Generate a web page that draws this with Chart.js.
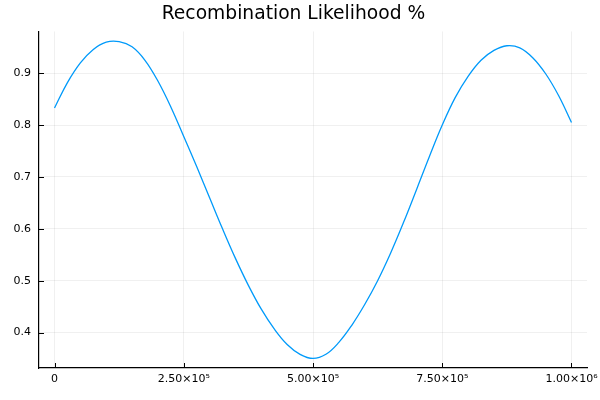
<!DOCTYPE html>
<html>
<head>
<meta charset="utf-8">
<script src="https://cdn.jsdelivr.net/npm/chart.js@4"></script>
<style>
  body { margin: 0; background: #fff; }
  #wrap { width: 600px; height: 400px; }
</style>
</head>
<body>
<div id="wrap"><canvas id="recomb-chart"></canvas></div>
<script>
// positions along the sequence
const positions = [
    0, 25000, 50000, 75000, 100000, 125000, 150000, 175000, 200000, 225000,
    250000, 275000, 300000, 325000, 350000, 375000, 400000, 425000, 450000, 475000,
    500000, 525000, 550000, 575000, 600000, 625000, 650000, 675000, 700000, 725000,
    750000, 775000, 800000, 825000, 850000, 875000, 900000, 925000, 950000, 975000,
    1000000
];
// likelihood values
const likelihood = [
    0.833, 0.882, 0.920, 0.946, 0.960, 0.961, 0.951, 0.925, 0.885, 0.835,
    0.778, 0.720, 0.660, 0.600, 0.543, 0.491, 0.445, 0.407, 0.377, 0.358,
    0.350, 0.358, 0.381, 0.414, 0.454, 0.500, 0.553, 0.612, 0.675, 0.739,
    0.800, 0.853, 0.894, 0.925, 0.944, 0.953, 0.949, 0.930, 0.899, 0.857,
    0.805
];

const xTicks = [0, 250000, 500000, 750000, 1000000];
const xTickLabels = ['0', '2.50×10⁵', '5.00×10⁵', '7.50×10⁵', '1.00×10⁶'];
const yTicks = [0.4, 0.5, 0.6, 0.7, 0.8, 0.9];
const yTickLabels = ['0.4', '0.5', '0.6', '0.7', '0.8', '0.9'];

const tickFont = { family: 'DejaVu Sans', size: 11 };

// small tick marks pointing into the plot, like the original
const innerTicks = {
    id: 'innerTicks',
    afterDraw(chart) {
        const { ctx, chartArea, scales } = chart;
        ctx.save();
        ctx.strokeStyle = '#000';
        ctx.lineWidth = 1;
        ctx.beginPath();
        xTicks.forEach(v => {
            const px = Math.round(scales.x.getPixelForValue(v)) + 0.5;
            ctx.moveTo(px, chartArea.bottom);
            ctx.lineTo(px, chartArea.bottom - 5);
        });
        yTicks.forEach(v => {
            const py = Math.round(scales.y.getPixelForValue(v)) + 0.5;
            ctx.moveTo(chartArea.left, py);
            ctx.lineTo(chartArea.left + 5, py);
        });
        ctx.stroke();
        ctx.restore();
    }
};

const ctx = document.getElementById('recomb-chart');

const config = {
    type: 'line',
    data: {
        datasets: [{
            label: 'y1',
            data: positions.map((x, i) => ({ x: x, y: likelihood[i] })),
            borderColor: 'rgb(0, 154, 250)',
            borderWidth: 1.3,
            pointRadius: 0,
            tension: 0.4,
            fill: false
        }]
    },
    options: {
        responsive: true,
        maintainAspectRatio: false,
        animation: false,
        layout: {
            padding: { left: 0, right: 13, top: 0, bottom: 0 }
        },
        plugins: {
            legend: { display: false },
            tooltip: { enabled: false },
            title: {
                display: true,
                text: 'Recombination Likelihood %',
                color: '#000',
                font: { family: 'DejaVu Sans', size: 18.7, weight: 'normal' },
                padding: { top: 3, bottom: 6 }
            }
        },
        scales: {
            x: {
                type: 'linear',
                min: -30000,
                max: 1030000,
                afterBuildTicks: scale => {
                    scale.ticks = xTicks.map(v => ({ value: v }));
                },
                afterFit: scale => {
                    scale.height = 32;
                    // let the last label run to the edge, as in the original
                    scale.paddingLeft = 0;
                    scale.paddingRight = 0;
                },
                ticks: {
                    color: '#000',
                    font: tickFont,
                    padding: 5,
                    maxRotation: 0,
                    autoSkip: false,
                    callback: (value, index) => xTickLabels[index]
                },
                grid: {
                    color: 'rgba(0, 0, 0, 0.06)',
                    lineWidth: 1,
                    drawTicks: false
                },
                border: { color: '#000', width: 1.2 }
            },
            y: {
                type: 'linear',
                min: 0.3316,
                max: 0.9806,
                afterBuildTicks: scale => {
                    scale.ticks = yTicks.map(v => ({ value: v }));
                },
                afterFit: scale => { scale.width = 39; },
                ticks: {
                    color: '#000',
                    font: tickFont,
                    padding: 8,
                    autoSkip: false,
                    callback: (value, index) => yTickLabels[index]
                },
                grid: {
                    color: 'rgba(0, 0, 0, 0.06)',
                    lineWidth: 1,
                    drawTicks: false
                },
                border: { color: '#000', width: 1.2 }
            }
        }
    },
    plugins: [innerTicks]
};

const recombChart = new Chart(ctx, config);
</script>
</body>
</html>
